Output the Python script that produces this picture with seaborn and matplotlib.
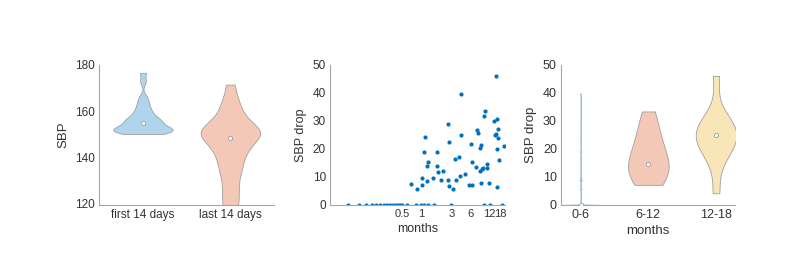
import numpy as np
import pandas as pd
import matplotlib
matplotlib.use("Agg")
import matplotlib.pyplot as plt
import seaborn as sns

# ---------------- data ----------------
# Panel 1: SBP samples
period_labels = ["first 14 days", "last 14 days"]
sbp_first14 = [150.1, 150.3, 150.6, 150.9, 151.1, 151.4, 151.7, 152.0, 152.2, 152.5,
               152.8, 153.1, 153.5, 154.5, 155.2, 155.5, 155.8, 156.3, 157.0, 157.8,
               158.7, 159.8, 161.0, 162.5, 164.2, 166.2, 172.8, 176.6]
sbp_last14 = [114.0, 118.0, 121.0, 124.0, 127.0, 130.0, 133.0, 135.0, 137.0, 139.0,
              141.0, 142.5, 144.0, 145.0, 146.0, 147.8, 148.5, 149.0, 149.5, 150.5,
              151.0, 152.0, 152.5, 153.5, 154.5, 155.5, 157.0, 159.0, 161.0, 163.5,
              166.5, 171.5]

# Panel 2: months vs SBP drop
months = [0.0676, 0.101, 0.131, 0.163, 0.188, 0.218, 0.252, 0.281, 0.314, 0.350,
          0.391, 0.421, 0.453, 0.487, 0.585, 0.812, 0.975, 1.09, 1.26, 1.57,
          2.92, 9.75, 12.1, 18.8,
          0.676, 0.833, 1.01, 1.01, 1.08, 1.14, 1.21, 1.23, 1.26, 1.51,
          1.73, 1.73, 1.81, 2.05, 2.23, 2.59, 2.61, 2.71, 2.74, 3.17,
          3.38, 3.54, 3.95, 4.01, 4.16, 4.16, 4.87, 6.0, 5.70, 6.45,
          6.29, 7.36, 7.63, 7.91, 8.51, 8.83, 8.42, 8.83, 9.06, 9.50,
          9.75, 10.2, 10.8, 10.9, 11.6, 14.4, 14.6, 15.0, 15.5, 16.1,
          16.3, 16.7, 16.1, 17.3, 16.1, 20.8]
sbp_drop = [0, 0, 0, 0, 0, 0, 0, 0, 0, 0,
            0, 0, 0, 0, 0, 0, 0, 0, 0, 0,
            0, 0, 0, 0,
            7.6, 5.8, 9.5, 7.2, 19.0, 24.3, 8.4, 13.8, 15.4, 9.5,
            19.1, 14.1, 11.9, 8.8, 12.2, 28.8, 8.8, 22.6, 6.8, 5.8,
            16.6, 8.9, 17.3, 10.2, 39.8, 25.1, 10.9, 21.9, 7.2, 7.2,
            15.5, 13.5, 26.7, 25.7, 20.5, 21.5, 12.1, 8.0, 12.9, 13.1,
            31.9, 33.4, 13.3, 14.7, 7.7, 30.1, 25.1, 46.1, 25.5, 30.7,
            27.1, 23.9, 20.0, 16.2, 6.3, 21.0]
month_ticks = [0.5, 1, 3, 6, 12, 18]
month_tick_labels = ["0.5", "1", "3", "6", "12", "18"]

# Panel 3: SBP drop by months group
group_labels = ["0-6", "6-12", "12-18"]
drop_0_6 = [0, 0, 0, 0, 0, 0, 0, 0, 0, 0, 0, 0, 0, 0, 0, 0, 0, 0, 0, 0,
            0, 0, 0, 0, 0, 0, 0, 0, 0, 0, 0, 0, 0, 0, 0, 0, 0, 0, 0, 0,
            7.6, 5.8, 9.5, 7.2, 19.0, 24.3, 8.4, 13.8, 15.4, 9.5,
            19.1, 14.1, 11.9, 8.8, 12.2, 28.8, 8.8, 22.6, 6.8, 5.8,
            16.6, 8.9, 17.3, 10.2, 39.8, 25.1, 10.9]
drop_6_12 = [7.2, 7.7, 8.0, 12.1, 12.9, 13.1, 13.3, 13.5, 14.7, 15.5,
             20.5, 21.5, 21.9, 25.7, 26.7, 31.9, 33.4]
drop_12_18 = [4.2, 16.2, 20.0, 21.0, 23.9, 25.1, 25.5, 27.1, 30.1, 30.7, 46.1]

# ---------------- style ----------------
sns.set_style("white")
plt.rcParams["font.family"] = ["Liberation Sans", "DejaVu Sans"]
TXT = "#333333"
SPINE = "#a6a6a6"
EDGE = "#a0a0a0"
c_blue = "#b0d4ec"
c_red = "#f4c8b7"
c_yel = "#f8e5b8"

fig = plt.figure(figsize=(8.0, 2.61), dpi=100)
ax1 = fig.add_axes([0.1241, 0.2146, 0.2185, 0.5364])
ax2 = fig.add_axes([0.4125, 0.2146, 0.21875, 0.5364])
ax3 = fig.add_axes([0.70125, 0.2146, 0.2175, 0.5364])


def style(ax):
    for s in ["top", "right"]:
        ax.spines[s].set_visible(False)
    for s in ["left", "bottom"]:
        ax.spines[s].set_color(SPINE)
        ax.spines[s].set_linewidth(0.8)
    ax.tick_params(direction="in", length=2.5, width=0.6, color=SPINE,
                   labelsize=8.5, labelcolor=TXT, pad=3)


def median_dots(df, x, y, order, ax):
    sns.pointplot(data=df, x=x, y=y, order=order, estimator="median",
                  errorbar=None, color="white", markers="o", linestyles="none",
                  markersize=3.0, markeredgecolor="#999999", markeredgewidth=0.6,
                  zorder=5, ax=ax)


# ---- Panel 1 ----
df1 = pd.DataFrame({
    "period": [period_labels[0]] * len(sbp_first14) + [period_labels[1]] * len(sbp_last14),
    "SBP": sbp_first14 + sbp_last14,
})
sns.violinplot(data=df1, x="period", y="SBP", hue="period", order=period_labels,
               palette={period_labels[0]: c_blue, period_labels[1]: c_red},
               legend=False, inner=None, cut=0, bw_adjust=0.45, density_norm="width",
               width=0.68, saturation=1, linecolor=EDGE, linewidth=0.6, ax=ax1)
median_dots(df1, "period", "SBP", period_labels, ax1)
ax1.set_xlim(-0.5, 1.5)
ax1.set_ylim(119.3, 180)
ax1.set_yticks([120, 140, 160, 180])
ax1.set_xlabel("")
ax1.set_ylabel("SBP", fontsize=9.5, color=TXT, labelpad=4)
style(ax1)

# ---- Panel 2 ----
df2 = pd.DataFrame({"months": months, "drop": sbp_drop})
sns.scatterplot(data=df2, x="months", y="drop", s=9, color="#0072bd",
                linewidth=0, ax=ax2)
ax2.set_xscale("log")
ax2.set_xlim(0.035, 21.2)
ax2.set_ylim(0, 50)
ax2.set_xticks(month_ticks)
ax2.set_xticklabels(month_tick_labels)
ax2.xaxis.set_minor_locator(matplotlib.ticker.NullLocator())
ax2.set_yticks([0, 10, 20, 30, 40, 50])
ax2.set_xlabel("months", fontsize=9, color=TXT, labelpad=3)
ax2.set_ylabel("SBP drop", fontsize=9, color=TXT, labelpad=4)
style(ax2)
ax2.tick_params(axis="x", labelsize=8)

# ---- Panel 3 ----
pal3 = {group_labels[0]: c_blue, group_labels[1]: c_red, group_labels[2]: c_yel}
groups3 = [drop_0_6, drop_6_12, drop_12_18]
bws3 = [0.03, 1.25, 0.85]
edges3 = ["#a9bfd0", EDGE, EDGE]
frames = []
for lab, vals, bw, ec in zip(group_labels, groups3, bws3, edges3):
    d = pd.DataFrame({"group": [lab] * len(vals), "drop": vals})
    frames.append(d)
    sns.violinplot(data=d, x="group", y="drop", hue="group", order=group_labels,
                   palette=pal3, legend=False, inner=None, cut=0, bw_adjust=bw,
                   gridsize=2000, density_norm="width", width=0.6, saturation=1,
                   linecolor=ec, linewidth=0.6, ax=ax3)
df3 = pd.concat(frames, ignore_index=True)
median_dots(df3, "group", "drop", group_labels, ax3)
ax3.set_xlim(-0.29, 2.28)
ax3.set_ylim(0, 50)
ax3.set_yticks([0, 10, 20, 30, 40, 50])
ax3.set_xlabel("months", fontsize=9.5, color=TXT, labelpad=3)
ax3.set_ylabel("SBP drop", fontsize=9.5, color=TXT, labelpad=4)
style(ax3)
ax3.tick_params(axis="both", labelsize=9)

fig.savefig("out.png", dpi=100)
